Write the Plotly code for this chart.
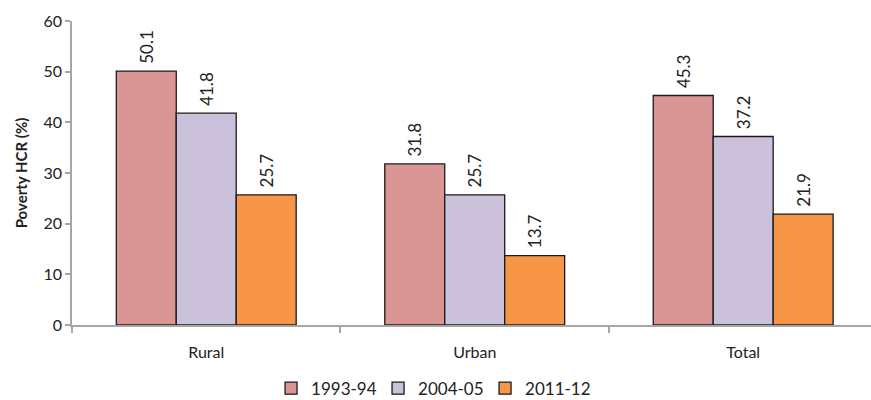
import plotly.graph_objects as go

categories = ["Rural", "Urban", "Total"]
years = ["1993-94", "2004-05", "2011-12"]
hcr_1993 = [50.1, 31.8, 45.3]
hcr_2004 = [41.8, 25.7, 37.2]
hcr_2011 = [25.7, 13.7, 21.9]
colors = ["#D99694", "#CCC1DA", "#F79646"]

font_family = "Lato, 'Open Sans', sans-serif"

fig = go.Figure()
for name, vals, col in zip(years, [hcr_1993, hcr_2004, hcr_2011], colors):
    fig.add_trace(go.Bar(
        x=categories, y=vals, name=name,
        marker=dict(color=col, line=dict(color="#1a1a1a", width=1.3)),
        text=[f"\u00a0{v:.1f}" for v in vals],
        textposition="outside", textangle=-90,
        textfont=dict(family=font_family, size=17, color="#222"),
        cliponaxis=False,
    ))

fig.update_layout(
    width=871, height=400,
    margin=dict(l=72, r=0, t=21, b=75, autoexpand=False),
    paper_bgcolor="white", plot_bgcolor="white",
    barmode="group", bargap=0.33, bargroupgap=0,
    font=dict(family=font_family, size=16, color="#222"),
    showlegend=True,
    legend=dict(orientation="h", x=0.45, xanchor="center", y=-0.15, yanchor="top",
                font=dict(family=font_family, size=17, color="#222"),
                itemwidth=30, entrywidth=62, entrywidthmode="pixels",
                traceorder="normal"),
    xaxis=dict(range=[-0.5, 2.476], showline=True, linecolor="#A6A6A6", linewidth=1.5,
               ticks="outside", tickson="boundaries", ticklen=6, tickcolor="#A6A6A6",
               tickwidth=1.5, showgrid=False, tickfont=dict(size=16), ticklabelstandoff=12),
    yaxis=dict(range=[0, 60], dtick=10, showline=True, linecolor="#A6A6A6", linewidth=1.5,
               ticks="outside", ticklen=5, tickcolor="#A6A6A6", tickwidth=1.5,
               showgrid=False, zeroline=False, tickfont=dict(size=16),
               title=dict(text="<b>Poverty HCR (%)</b>", font=dict(size=15), standoff=12)),
)

fig.write_html("out.html")
